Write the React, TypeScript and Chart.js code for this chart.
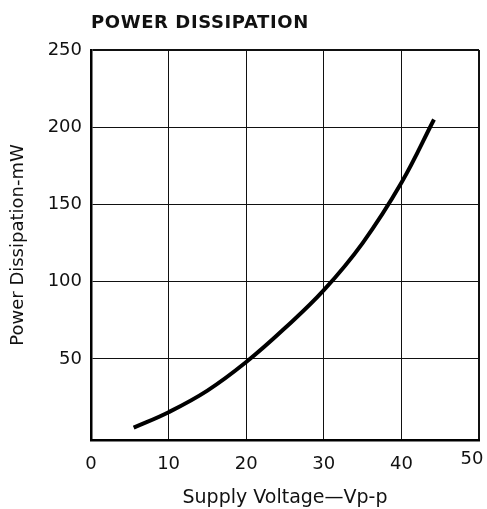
import { useEffect, useRef } from "react";
import { Chart, registerables } from "chart.js";

Chart.register(...registerables);

const chartTitle = "POWER DISSIPATION";
const xAxisTitle = "Supply Voltage\u2014Vp-p";
const yAxisTitle = "Power Dissipation-mW";

const supplyVoltage = [5.5, 10, 15, 20, 25, 30, 35, 40, 44.2];
const powerDissipation = [5.5, 15.5, 29.5, 48, 70, 94.5, 125, 164, 205];

const xTickValues = [0, 10, 20, 30, 40, 50];
const yTickValues = [0, 50, 100, 150, 200, 250];

const FONT = "'DejaVu Sans', 'Liberation Sans', sans-serif";

const titlePlugin = {
  id: "leftTitle",
  beforeDraw(chart: any) {
    // keep the last x tick label inside the canvas, as in the reference
    try {
      const xs = chart.scales.x;
      const items = xs.getLabelItems(chart.chartArea);
      const last = items[items.length - 1];
      if (last && last.options && last.options.translation) {
        const [tx, ty] = last.options.translation;
        last.options.translation = [tx - 7, ty - 5];
      }
    } catch (e) {}
  },
  afterDraw(chart: any) {
    const { ctx, chartArea } = chart;
    ctx.save();
    ctx.font = `bold 18px ${FONT}`;
    try {
      (ctx as any).letterSpacing = "0.6px";
    } catch (e) {}
    ctx.fillStyle = "#111";
    ctx.textBaseline = "alphabetic";
    ctx.textAlign = "left";
    ctx.fillText(chartTitle, chartArea.left, 28);
    ctx.restore();
  },
};

export default function App() {
  const ref = useRef<HTMLCanvasElement | null>(null);

  useEffect(() => {
    if (!ref.current) return;
    const chart = new Chart(ref.current, {
      type: "line",
      data: {
        datasets: [
          {
            data: supplyVoltage.map((v, i) => ({ x: v, y: powerDissipation[i] })),
            borderColor: "#000",
            borderWidth: 4,
            pointRadius: 0,
            tension: 0.4,
            fill: false,
          },
        ],
      },
      options: {
        animation: false,
        responsive: false,
        layout: { padding: { top: 50, right: 8, left: 0, bottom: 0 } },
        plugins: {
          legend: { display: false },
          tooltip: { enabled: false },
          title: { display: false },
        },
        scales: {
          x: {
            type: "linear",
            min: xTickValues[0],
            max: xTickValues[xTickValues.length - 1],
            afterBuildTicks: (scale: any) => {
              scale.ticks = xTickValues.map((v) => ({ value: v }));
            },
            afterFit: (scale: any) => {
              scale.height = 69;
              scale.paddingLeft = 0;
              scale.paddingRight = 0;
            },
            grid: {
              color: "#111",
              lineWidth: (c: any) => (c.tick && c.tick.value === 50 ? 2 : 1),
              drawTicks: false,
            },
            border: { display: true, color: "#000", width: 2.5 },
            ticks: {
              color: "#111",
              padding: 14,
              maxRotation: 0,
              font: { family: FONT, size: 18 },
            },
            title: {
              display: true,
              text: xAxisTitle,
              color: "#111",
              font: { family: FONT, size: 19 },
              padding: { top: 0, bottom: 0 },
            },
          },
          y: {
            type: "linear",
            min: -2.5,
            max: 250,
            afterBuildTicks: (scale: any) => {
              scale.ticks = yTickValues.map((v) => ({ value: v }));
            },
            afterFit: (scale: any) => {
              scale.width = 91;
              scale.paddingTop = 0;
              scale.paddingBottom = 0;
            },
            grid: {
              color: (c: any) => (c.tick && c.tick.value === 0 ? "rgba(0,0,0,0)" : "#111"),
              lineWidth: (c: any) => (c.tick && c.tick.value === 250 ? 2 : 1),
              drawTicks: false,
            },
            border: { display: true, color: "#000", width: 2.5 },
            ticks: {
              color: "#111",
              padding: 9,
              font: { family: FONT, size: 18 },
              callback: (v: any) => (v === 0 ? "" : String(v)),
            },
            title: {
              display: true,
              text: yAxisTitle,
              color: "#111",
              font: { family: FONT, size: 18 },
              padding: { top: 8, bottom: 0 },
            },
          },
        },
      },
      plugins: [titlePlugin],
    } as any);
    return () => chart.destroy();
  }, []);

  return (
    <div style={{ position: "fixed", left: 0, top: 0, width: 487, height: 509, background: "#fff" }}>
      <canvas ref={ref} width={487} height={509} style={{ display: "block" }} />
    </div>
  );
}
